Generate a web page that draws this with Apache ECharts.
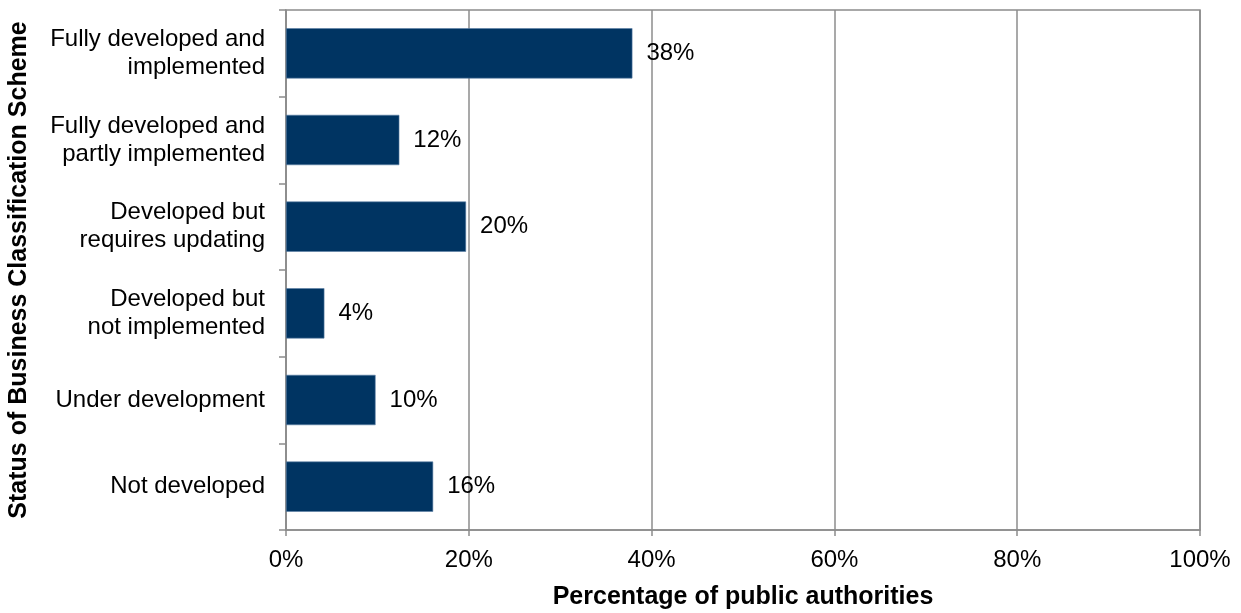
<!DOCTYPE html>
<html><head><meta charset="utf-8">
<script src="https://cdn.jsdelivr.net/npm/echarts@6/dist/echarts.min.js"></script>
<style>html,body{margin:0;padding:0;background:#fff}#c{width:1241px;height:613px}</style>
</head><body><div id="c"></div>
<script>
var categories = ["Fully developed and\nimplemented","Fully developed and\npartly implemented","Developed but\nrequires updating","Developed but\nnot implemented","Under development","Not developed"];
var values = [37.9, 12.4, 19.7, 4.2, 9.8, 16.1];
var xTicks = [0, 20, 40, 60, 80, 100];
var xName = "Percentage of public authorities";
var yName = "Status of Business Classification Scheme";

var chart = echarts.init(document.getElementById('c'));
var font = 'Liberation Sans, Arial, sans-serif';
chart.setOption({
  animation: false,
  grid: {left: 286, right: 41, top: 10, bottom: 83, show: true, borderColor: '#8c8c8c', borderWidth: 1.5,
         containLabel: false, outerBoundsMode: 'none'},
  xAxis: {
    type: 'value', min: xTicks[0], max: xTicks[xTicks.length-1], interval: 20,
    name: xName, nameLocation: 'middle', nameGap: 55,
    nameTextStyle: {fontFamily: font, fontSize: 25, fontWeight: 'bold', color: '#000'},
    axisLine: {show: true, lineStyle: {color: '#8c8c8c', width: 1.5}},
    axisTick: {show: true, length: 6, lineStyle: {color: '#8c8c8c', width: 1.5}},
    axisLabel: {fontFamily: font, fontSize: 24, color: '#000', margin: 18, formatter: '{value}%'},
    splitLine: {show: true, lineStyle: {color: '#8c8c8c', width: 1.5}}
  },
  yAxis: {
    type: 'category', data: categories, inverse: true,
    name: yName, nameLocation: 'middle', nameGap: 254, nameRotate: 90,
    nameTextStyle: {fontFamily: font, fontSize: 25, fontWeight: 'bold', color: '#000'},
    axisLine: {show: true, lineStyle: {color: '#8c8c8c', width: 1.5}},
    axisTick: {show: true, length: 7, lineStyle: {color: '#8c8c8c', width: 1.5}},
    axisLabel: {fontFamily: font, fontSize: 24, color: '#000', margin: 21, lineHeight: 28, align: 'right'}
  },
  series: [{
    type: 'bar', data: values, barCategoryGap: '42%',
    itemStyle: {color: '#003462', borderColor: '#5a7fa6', borderWidth: 0.6},
    label: {show: true, position: 'right', distance: 14, fontFamily: font, fontSize: 24, color: '#000',
      formatter: function(p){ return Math.round(p.value) + '%'; }}
  }]
});
</script></body></html>
